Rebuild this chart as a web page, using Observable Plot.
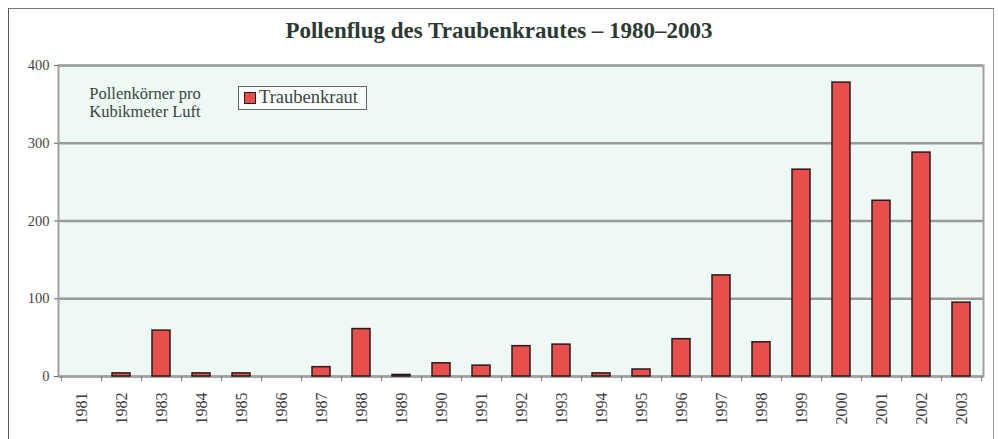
<!DOCTYPE html>
<html><head><meta charset="utf-8">
<script src="https://cdn.jsdelivr.net/npm/d3@7"></script>
<script src="https://cdn.jsdelivr.net/npm/@observablehq/plot@0.6"></script>
<style>
body{margin:0;background:#fff;}
#wrap{position:relative;width:998px;height:439px;overflow:hidden;font-family:"Liberation Serif","Times New Roman",serif;background:#fff;}
#frame{position:absolute;left:8px;top:8px;width:984px;height:450px;border-left:1.5px solid #555;border-top:1px solid #777;border-right:1px solid #999;}
#title{position:absolute;left:0;top:18px;width:998px;text-align:center;font-weight:bold;font-size:23px;color:#2c3a33;}
#chart{position:absolute;left:0;top:50px;}
#unit{position:absolute;left:70px;top:85px;width:150px;text-align:center;font-size:16.5px;line-height:18px;color:#37463e;}
#legend{position:absolute;left:238px;top:86px;width:129px;height:24px;border:1px solid #666;background:#fbfdfc;font-size:18.5px;color:#37463e;box-sizing:border-box;}
#legend .sw{position:absolute;left:5px;top:5px;width:12px;height:12px;background:#e84c4b;border:1px solid #2a1a1a;box-sizing:border-box;}
#legend .lb{position:absolute;left:20px;top:0px;}
</style>
</head><body>
<div id="wrap">
  <div id="frame"></div>
  <div id="title">Pollenflug des Traubenkrautes – 1980–2003</div>
  <div id="chart"></div>
  <div id="unit">Pollenkörner pro<br>Kubikmeter Luft</div>
  <div id="legend"><div class="sw"></div><div class="lb">Traubenkraut</div></div>
</div>
<script>
const years = ["1981","1982","1983","1984","1985","1986","1987","1988","1989","1990","1991","1992","1993","1994","1995","1996","1997","1998","1999","2000","2001","2002","2003"];
const values = [0,4,59,4,4,0,12,61,2,17,14,39,41,4,9,48,130,44,266,378,226,288,95];
const yTicks = [0,100,200,300,400];
const seriesName = "Traubenkraut";

const data = years.map((y,i)=>({year:y, value:values[i], series:seriesName}));
const W = 998, H = 389, mL = 58, mR = 15, mT = 15, mB = 63;
const step = (W - mL - mR) / years.length;

const chart = Plot.plot({
  width: W, height: H,
  marginLeft: mL, marginRight: mR, marginTop: mT, marginBottom: mB,
  style: {fontFamily: '"Liberation Serif","Times New Roman",serif', fontSize: "14px", background: "transparent"},
  x: {domain: years, paddingInner: 0.55, paddingOuter: 0.275, label: null},
  y: {domain: [0, 400], ticks: yTicks, label: null},
  marks: [
    Plot.frame({fill: "#eef8f5", stroke: null}),
    Plot.gridY(yTicks, {stroke: "#9a9a9a", strokeOpacity: 1, strokeWidth: 2.5}),
    Plot.frame({stroke: "#a0a0a0", strokeWidth: 2}),
    Plot.axisY(yTicks, {tickSize: 4, tickPadding: 5, fontSize: 14.5, color: "#444", tickFormat: d => String(d), stroke: "#666"}),
    Plot.axisX({tickSize: 0, tickRotate: -90, tickPadding: 16, fontSize: 16, color: "#3a3a3a"}),
    Plot.ruleX(years, {x: d => d, y1: 0, y2: 0, dx: step / 2, insetBottom: -5, stroke: "#777"}),
    Plot.ruleX(years.slice(0, 1), {x: d => d, y1: 0, y2: 0, dx: -step / 2, insetBottom: -5, stroke: "#777"}),
    Plot.barY(data, {x: "year", y: "value", fill: "#e84f4c", stroke: "#2a1a1a", strokeWidth: 1.5})
  ]
});
document.getElementById("chart").appendChild(chart);
</script>
</body></html>
